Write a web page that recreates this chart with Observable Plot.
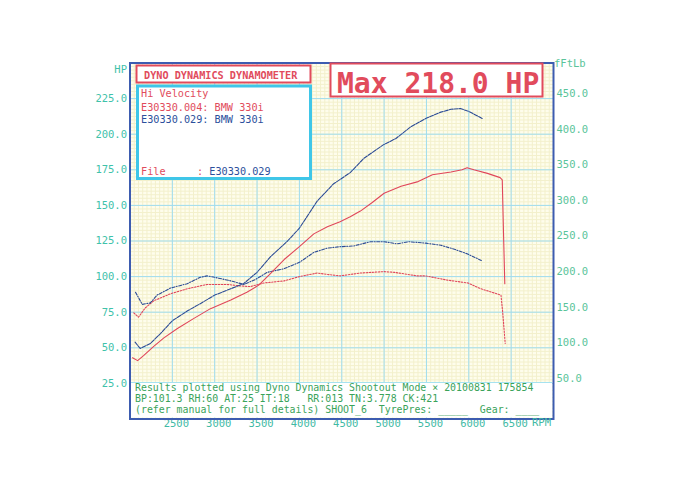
<!DOCTYPE html>
<html>
<head>
<meta charset="utf-8">
<script src="https://cdn.jsdelivr.net/npm/d3@7"></script>
<script src="https://cdn.jsdelivr.net/npm/@observablehq/plot@0.6"></script>
<style>
  body { margin: 0; background: #fff; }
  #wrap { position: relative; width: 678px; height: 480px; }
  #over { position: absolute; left: 0; top: 0; pointer-events: none; }
  #over text { font-family: "DejaVu Sans Mono", monospace; white-space: pre; }
</style>
</head>
<body>
<div id="wrap">
  <div id="chart"></div>
  <svg id="over" width="678" height="480" xml:space="preserve">
    <!-- header box -->
    <rect x="136.5" y="65.5" width="174" height="17" fill="#fff" stroke="#e14b5c" stroke-width="2"/>
    <text x="144" y="79" font-size="10.2" font-weight="bold" fill="#e14b5c">DYNO DYNAMICS DYNAMOMETER</text>
    <!-- legend box -->
    <rect x="137.5" y="86" width="173" height="92.5" fill="#fff" stroke="#3fc6e8" stroke-width="3"/>
    <text x="141" y="97" font-size="10.2" fill="#e14b5c">Hi Velocity</text>
    <text x="141" y="111" font-size="10.2" fill="#e14b5c">E30330.004: BMW 330i</text>
    <text x="141" y="123" font-size="10.2" fill="#2c4f9c">E30330.029: BMW 330i</text>
    <text x="141" y="175" font-size="10.2" fill="#e14b5c">File</text>
    <text x="197" y="175" font-size="10.2"><tspan fill="#e14b5c">: </tspan><tspan fill="#2c4f9c">E30330.029</tspan></text>
    <!-- max box -->
    <rect x="330.5" y="63.5" width="212" height="33" fill="#fff" stroke="#e14b5c" stroke-width="2"/>
    <text x="337" y="92.5" font-size="28" font-weight="bold" fill="#e14b5c">Max 218.0 HP</text>
    <!-- axis unit labels -->
    <text x="127" y="73" font-size="10.5" fill="#3fc2aa" text-anchor="end">HP</text>
    <text x="554" y="67" font-size="10.5" fill="#5ac49a">fFtLb</text>
    <text x="532" y="426" font-size="10.5" fill="#3fbaa5">RPM</text>
    <!-- results box -->
    <rect x="131" y="382" width="421" height="35.5" fill="#fff"/>
    <line x1="131" x2="552" y1="382.5" y2="382.5" stroke="#a6e2f0"/>
    <text x="135" y="390.5" font-size="9.9" fill="#3aa35a">Results plotted using Dyno Dynamics Shootout Mode × 20100831 175854</text>
    <text x="135" y="401.5" font-size="9.9" fill="#3aa35a">BP:101.3 RH:60 AT:25 IT:18   RR:013 TN:3.778 CK:421</text>
    <text x="135" y="413" font-size="9.9" fill="#3aa35a">(refer manual for full details) SHOOT_6  TyrePres: _____  Gear: ____</text>
  </svg>
</div>
<script>
// axis ticks
const rpmTicks = [2500, 3000, 3500, 4000, 4500, 5000, 5500, 6000, 6500];
const hpTicks = [25, 50, 75, 100, 125, 150, 175, 200, 225];

// E30330.004 (red) power, HP
const redPowerRpm = [2030, 2090, 2160, 2280, 2400, 2560, 2750, 2950, 3190, 3380, 3520, 3640, 3820, 4000, 4170, 4330, 4480, 4600, 4720, 4860, 5000, 5200, 5390, 5570, 5790, 5920, 5980, 6060, 6220, 6370, 6395, 6410, 6425];
const redPowerHp = [43, 41, 44.5, 51, 57, 63.5, 70.5, 77.5, 83.5, 89, 94, 101, 112, 121, 130, 135, 138.5, 142, 146, 152, 158.5, 163.5, 166.5, 171.5, 173.5, 175, 176.5, 175, 172.5, 169.5, 168, 130, 95];

// E30330.029 (blue) power, HP
const bluePowerRpm = [2060, 2120, 2240, 2360, 2500, 2680, 2830, 3000, 3190, 3340, 3500, 3660, 3860, 4000, 4210, 4400, 4600, 4760, 4990, 5140, 5310, 5490, 5670, 5790, 5900, 6000, 6160];
const bluePowerHp = [54, 49.5, 53, 60, 69, 76, 81, 87, 91.5, 95, 103, 114, 125, 134, 153, 165, 173, 183, 192.5, 197, 205, 211, 215.5, 217.5, 218, 216, 211];

// red torque, ft-lb
const redTorqueRpm = [2045, 2100, 2180, 2280, 2480, 2680, 2910, 3150, 3290, 3420, 3580, 3820, 4000, 4210, 4330, 4480, 4720, 5000, 5120, 5390, 5490, 5750, 5990, 6140, 6380, 6400, 6430];
const redTorqueFt = [149, 143, 156, 166, 176, 183, 189, 189, 187, 186, 191, 194, 200, 205, 203, 201, 205, 207, 206, 201, 201, 195, 191, 183, 174, 150, 106];

// blue torque, ft-lb
const blueTorqueRpm = [2065, 2145, 2240, 2320, 2480, 2675, 2830, 2910, 3000, 3190, 3344, 3482, 3620, 3816, 4000, 4170, 4330, 4480, 4640, 4840, 5000, 5150, 5290, 5490, 5670, 5840, 5980, 6160];
const blueTorqueFt = [178, 161, 163, 174, 184, 190, 199, 201, 199, 194, 189, 196, 206, 211, 220, 234, 240, 242, 243, 249, 249, 246, 249, 247, 244, 238, 232, 222];

const red = "#e0465a";
const blue = "#2b4b95";

function rows(xs, ys) {
  return xs.map((x, i) => ({rpm: x, v: ys[i]}));
}

// torque is drawn on the HP scale, 2 ft-lb per HP (right axis)
let chart = Plot.plot({
  width: 678,
  height: 480,
  marginLeft: 129.5,
  marginRight: 125,
  marginTop: 62.5,
  marginBottom: 61.5,
  style: {background: "transparent", fontFamily: "DejaVu Sans Mono", fontSize: "10.5px"},
  x: {domain: [2000, 7000]},
  y: {domain: [0, 250]},
  marks: [
    Plot.frame({fill: "#fefdec"}),
    Plot.gridX(d3.range(2000, 7001, 50), {stroke: "#f3f0cc", strokeOpacity: 1}),
    Plot.gridY(d3.range(0, 250.1, 2.5), {stroke: "#f3f0cc", strokeOpacity: 1}),
    Plot.gridX(rpmTicks, {stroke: "#9fdcf0", strokeOpacity: 1}),
    Plot.gridY(hpTicks, {stroke: "#9fdcf0", strokeOpacity: 1}),
    Plot.axisY(hpTicks, {tickSize: 0, tickPadding: 3, tickFormat: d => d.toFixed(1), color: "#3fc2aa", label: null}),
    Plot.axisY(hpTicks, {anchor: "right", tickSize: 0, tickPadding: 3, dy: -5, tickFormat: d => (d * 2).toFixed(1), color: "#5ac49a", label: null}),
    Plot.axisX(rpmTicks, {tickSize: 0, tickPadding: 1, dx: 4, tickFormat: d => String(d), color: "#3fbaa5", label: null}),
    Plot.line(rows(redTorqueRpm, redTorqueFt), {x: "rpm", y: d => d.v / 2, stroke: red, strokeWidth: 1.1, strokeDasharray: "1.5,1.5"}),
    Plot.line(rows(blueTorqueRpm, blueTorqueFt), {x: "rpm", y: d => d.v / 2, stroke: blue, strokeWidth: 1.1, strokeDasharray: "3,1.5,1,1.5"}),
    Plot.line(rows(redPowerRpm, redPowerHp), {x: "rpm", y: "v", stroke: red, strokeWidth: 1.1}),
    Plot.line(rows(bluePowerRpm, bluePowerHp), {x: "rpm", y: "v", stroke: blue, strokeWidth: 1.1, strokeDasharray: "4,1.2"}),
    Plot.frame({stroke: "#3d5cb0", strokeWidth: 2})
  ]
});

d3.select("#chart").append(() => chart);
</script>
</body>
</html>
